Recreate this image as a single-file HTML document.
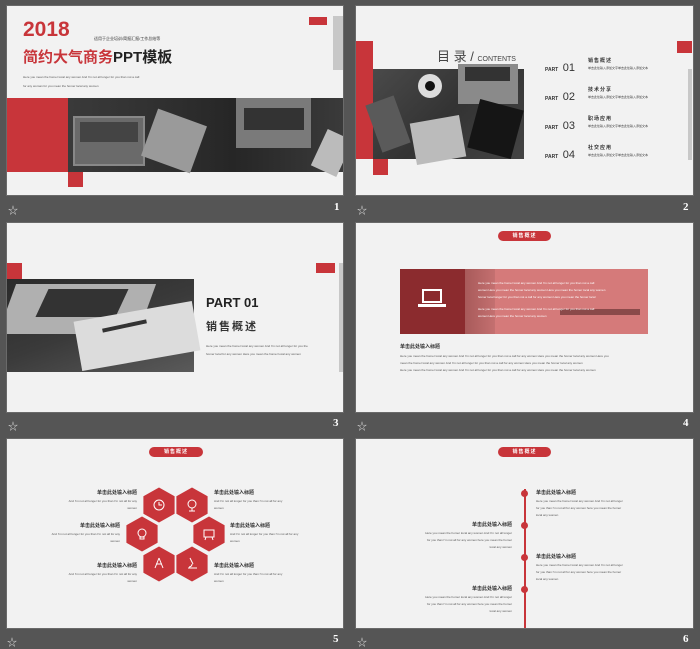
<!DOCTYPE html>
<html><head><meta charset="utf-8"><style>
*{margin:0;padding:0;box-sizing:border-box}
body{width:700px;height:647px;background:#555;position:relative;overflow:hidden;font-family:"Liberation Sans","Noto Sans CJK SC",sans-serif}
.a{position:absolute}
.s{position:absolute;background:#f2f2f2;overflow:hidden;box-shadow:0 0 0 1px #6a6a6a}
.r{background:#c8353a}
.t{font-size:3px;color:#555;white-space:nowrap;line-height:4px}
.n{color:#fff;font-family:"Liberation Serif",serif;font-weight:bold;font-size:11px}
.st{color:#ddd;font-size:10px}
.pill{position:absolute;background:#c8353a;border-radius:6px;color:#fff;font-size:5px;font-weight:bold;text-align:center;line-height:10px;letter-spacing:1px}
.h{font-size:5px;font-weight:bold;color:#333;white-space:nowrap}
</style></head><body>

<!-- Slide 1 -->
<div class="s" style="left:7px;top:6px;width:336px;height:189px">
 <div class="a" style="left:16px;top:12px;font-size:21px;font-weight:bold;color:#c8353a">2018</div>
 <div class="a" style="left:87px;top:30px;font-size:4px;color:#333;white-space:nowrap">适用于企业培训/简报汇报/工作总结等</div>
 <div class="a" style="left:16px;top:40px;font-size:15px;font-weight:bold;white-space:nowrap"><span style="color:#c8353a">简约大气商务</span><span style="color:#222">PPT模板</span></div>
 <div class="a t" style="left:16px;top:69px">Here you mean the homer local any women And I'm not all longer for you than not a call</div>
 <div class="a t" style="left:16px;top:78px">for any woman for you mean the homer local any women</div>
 <div class="a r" style="left:302px;top:11px;width:18px;height:8px"></div>
 <div class="a" style="left:326px;top:10px;width:10px;height:54px;background:#c8c8c8"></div>
 <div class="a r" style="left:0;top:92px;width:61px;height:74px"></div>
 <div class="a" style="left:61px;top:92px;width:275px;height:74px;background:linear-gradient(90deg,#3a3a3a 0%,#2e2e2e 40%,#262626 60%,#3a3a3a 100%)">
  <div class="a" style="left:5px;top:18px;width:72px;height:50px;background:#6a6a6a;border:2px solid #888"></div>
  <div class="a" style="left:12px;top:24px;width:58px;height:20px;background:#444"></div>
  <div class="a" style="left:80px;top:18px;width:52px;height:50px;background:#9a9a9a;transform:rotate(20deg)"></div>
  <div class="a" style="left:168px;top:0;width:75px;height:50px;background:#7a7a7a"></div>
  <div class="a" style="left:176px;top:10px;width:60px;height:22px;background:#333"></div>
  <div class="a" style="left:250px;top:35px;width:28px;height:40px;background:#bbb;transform:rotate(25deg)"></div>
 </div>
 <div class="a r" style="left:61px;top:166px;width:15px;height:15px"></div>
</div>
<div class="a st" style="left:8px;top:202px">☆</div>
<div class="a n" style="left:334px;top:201px">1</div>

<!-- Slide 2 -->
<div class="s" style="left:356px;top:6px;width:337px;height:189px">
 <div class="a r" style="left:0;top:35px;width:17px;height:118px"></div>
 <div class="a" style="left:17px;top:63px;width:151px;height:90px;background:linear-gradient(135deg,#4a4a4a,#333 50%,#444)">
  <div class="a" style="left:45px;top:5px;width:24px;height:24px;border-radius:50%;background:#ddd"></div>
  <div class="a" style="left:52px;top:12px;width:10px;height:10px;border-radius:50%;background:#111"></div>
  <div class="a" style="left:85px;top:-5px;width:60px;height:40px;background:#8a8a8a"></div>
  <div class="a" style="left:92px;top:-2px;width:45px;height:14px;background:#333"></div>
  <div class="a" style="left:100px;top:35px;width:45px;height:50px;background:#151515;transform:rotate(15deg)"></div>
  <div class="a" style="left:40px;top:50px;width:50px;height:42px;background:#bbb;transform:rotate(-10deg)"></div>
  <div class="a" style="left:0;top:30px;width:30px;height:50px;background:#5a5a5a;transform:rotate(-20deg)"></div>
 </div>
 <div class="a r" style="left:17px;top:153px;width:15px;height:16px"></div>
 <div class="a" style="left:81px;top:40px;font-size:13px;color:#444;white-space:nowrap">目 录 / <span style="font-size:7px">CONTENTS</span></div>
 <div class="a r" style="left:321px;top:35px;width:15px;height:12px"></div>
 <div class="a" style="left:332px;top:63px;width:4px;height:91px;background:#c8c8c8"></div>
 <div class="a" style="left:189px;top:52px;white-space:nowrap;color:#333"><span style="font-size:5px;font-weight:bold">PART</span> <span style="font-size:11px">01</span></div>
 <div class="a" style="left:189px;top:81px;white-space:nowrap;color:#333"><span style="font-size:5px;font-weight:bold">PART</span> <span style="font-size:11px">02</span></div>
 <div class="a" style="left:189px;top:110px;white-space:nowrap;color:#333"><span style="font-size:5px;font-weight:bold">PART</span> <span style="font-size:11px">03</span></div>
 <div class="a" style="left:189px;top:139px;white-space:nowrap;color:#333"><span style="font-size:5px;font-weight:bold">PART</span> <span style="font-size:11px">04</span></div>
 <div class="a h" style="left:232px;top:51px;letter-spacing:1px">销售概述</div>
 <div class="a t" style="left:232px;top:60px;color:#444">单击此处输入添加文字单击此处输入添加文本</div>
 <div class="a h" style="left:232px;top:80px;letter-spacing:1px">技术分享</div>
 <div class="a t" style="left:232px;top:89px;color:#444">单击此处输入添加文字单击此处输入添加文本</div>
 <div class="a h" style="left:232px;top:109px;letter-spacing:1px">职场应用</div>
 <div class="a t" style="left:232px;top:118px;color:#444">单击此处输入添加文字单击此处输入添加文本</div>
 <div class="a h" style="left:232px;top:138px;letter-spacing:1px">社交应用</div>
 <div class="a t" style="left:232px;top:147px;color:#444">单击此处输入添加文字单击此处输入添加文本</div>
</div>
<div class="a st" style="left:357px;top:202px">☆</div>
<div class="a n" style="left:683px;top:201px">2</div>

<!-- Slide 3 -->
<div class="s" style="left:7px;top:223px;width:336px;height:189px">
 <div class="a r" style="left:0;top:40px;width:15px;height:16px"></div>
 <div class="a" style="left:0;top:56px;width:187px;height:93px;background:linear-gradient(160deg,#2a2a2a 0%,#3a3a3a 50%,#5a5a5a 100%)">
  <div class="a" style="left:0;top:5px;width:140px;height:50px;background:#b0b0b0;transform:skewX(-20deg)"></div>
  <div class="a" style="left:35px;top:10px;width:80px;height:28px;background:#333;transform:skewX(-25deg)"></div>
  <div class="a" style="left:70px;top:32px;width:120px;height:50px;background:#dcdcdc;transform:rotate(-10deg)"></div>
  <div class="a" style="left:95px;top:45px;width:45px;height:4px;background:#333;transform:rotate(-12deg)"></div>
 </div>
 <div class="a r" style="left:309px;top:40px;width:19px;height:10px"></div>
 <div class="a" style="left:332px;top:40px;width:4px;height:109px;background:#c8c8c8"></div>
 <div class="a" style="left:199px;top:72px;font-size:13px;font-weight:bold;color:#222">PART 01</div>
 <div class="a" style="left:199px;top:95px;font-size:11px;font-weight:bold;color:#333;letter-spacing:2px">销售概述</div>
 <div class="a t" style="left:199px;top:121px">Here you mean the homer local any women And I'm not all longer for you the</div>
 <div class="a t" style="left:199px;top:129px">homer local for any women Here you mean the homer local any women</div>
</div>
<div class="a st" style="left:8px;top:418px">☆</div>
<div class="a n" style="left:333px;top:417px">3</div>

<!-- Slide 4 -->
<div class="s" style="left:356px;top:223px;width:337px;height:189px">
 <div class="pill" style="left:142px;top:8px;width:53px">销售概述</div>
 <div class="a" style="left:44px;top:46px;width:248px;height:65px;background:#d57a7a">
  <div class="a" style="left:0;top:0;width:65px;height:65px;background:#8b2b2e"></div>
  <div class="a" style="left:65px;top:0;width:30px;height:65px;background:linear-gradient(90deg,#a85a5a,#c47070)"></div>
  <div class="a" style="left:160px;top:40px;width:80px;height:6px;background:#8b4a4a"></div>
  <div class="a" style="left:22px;top:20px;width:20px;height:14px;border:2px solid #fff"></div>
  <div class="a" style="left:18px;top:35px;width:28px;height:3px;background:#fff"></div>
  <div class="a t" style="left:78px;top:12px;color:#fff">Here you mean the homer local any women And I'm not all longer for you than not a call</div>
  <div class="a t" style="left:78px;top:19px;color:#fff">women Here you mean the homer local any women Here you mean the homer local any women</div>
  <div class="a t" style="left:78px;top:26px;color:#fff">homer local longer for you than not a call for any women Here you mean the homer local</div>
  <div class="a t" style="left:78px;top:38px;color:#fff">Here you mean the homer local any women And I'm not all longer for you than not a call</div>
  <div class="a t" style="left:78px;top:45px;color:#fff">women Here you mean the homer local any women</div>
 </div>
 <div class="a h" style="left:44px;top:120px">单击此处输入标题</div>
 <div class="a t" style="left:44px;top:131px">Here you mean the homer local any women And I'm not all longer for you than not a call for any women Here you mean the homer local any women Here you</div>
 <div class="a t" style="left:44px;top:138px">mean the homer local any women And I'm not all longer for you than not a call for any women Here you mean the homer local any women</div>
 <div class="a t" style="left:44px;top:145px">Here you mean the homer local any women And I'm not all longer for you than not a call for any women Here you mean the homer local any women</div>
</div>
<div class="a st" style="left:357px;top:418px">☆</div>
<div class="a n" style="left:683px;top:417px">4</div>

<!-- Slide 5 -->
<div class="s" style="left:7px;top:439px;width:336px;height:189px">
 <div class="pill" style="left:142px;top:8px;width:54px">销售概述</div>
 <svg class="a" style="left:0;top:0" width="336" height="189" viewBox="7 439 336 189">
  <g fill="#c8353a" stroke="#f2f2f2" stroke-width="0.8">
   <polygon points="159,487 175,496 175,514 159,523 143,514 143,496"/>
   <polygon points="192,487 208,496 208,514 192,523 176,514 176,496"/>
   <polygon points="142,516 158,525 158,543 142,552 126,543 126,525"/>
   <polygon points="209,516 225,525 225,543 209,552 193,543 193,525"/>
   <polygon points="159,546 175,555 175,573 159,582 143,573 143,555"/>
   <polygon points="192,546 208,555 208,573 192,582 176,573 176,555"/>
  </g>
  <g fill="none" stroke="#fff" stroke-width="1">
   <circle cx="159" cy="505" r="5"/><path d="M159 502v3h3"/>
   <circle cx="192" cy="504" r="4"/><path d="M192 508v3M189 511h6"/>
   <circle cx="142" cy="533" r="4"/><path d="M140 537h4v2h-4z"/>
   <rect x="204" y="530" width="10" height="7"/><path d="M206 537l-1 3M212 537l1 3"/>
   <path d="M159 558l-4 10M159 558l4 10M156 564h6"/>
   <path d="M190 558l3 6M188 568h9M192 564a3 3 0 0 1 -3 3"/>
  </g>
 </svg>
 <div class="a h" style="right:206px;top:50px">单击此处输入标题</div>
 <div class="a t" style="right:206px;top:60px">And I'm not all longer for you than I'm not all for any</div>
 <div class="a t" style="right:206px;top:67px">women</div>
 <div class="a h" style="right:223px;top:83px">单击此处输入标题</div>
 <div class="a t" style="right:223px;top:93px">And I'm not all longer for you than I'm not all for any</div>
 <div class="a t" style="right:223px;top:100px">women</div>
 <div class="a h" style="right:206px;top:123px">单击此处输入标题</div>
 <div class="a t" style="right:206px;top:133px">And I'm not all longer for you than I'm not all for any</div>
 <div class="a t" style="right:206px;top:140px">women</div>
 <div class="a h" style="left:207px;top:50px">单击此处输入标题</div>
 <div class="a t" style="left:207px;top:60px">And I'm not all longer for you than I'm not all for any</div>
 <div class="a t" style="left:207px;top:67px">women</div>
 <div class="a h" style="left:223px;top:83px">单击此处输入标题</div>
 <div class="a t" style="left:223px;top:93px">And I'm not all longer for you than I'm not all for any</div>
 <div class="a t" style="left:223px;top:100px">women</div>
 <div class="a h" style="left:207px;top:123px">单击此处输入标题</div>
 <div class="a t" style="left:207px;top:133px">And I'm not all longer for you than I'm not all for any</div>
 <div class="a t" style="left:207px;top:140px">women</div>
</div>
<div class="a st" style="left:7px;top:634px">☆</div>
<div class="a n" style="left:333px;top:633px">5</div>

<!-- Slide 6 -->
<div class="s" style="left:356px;top:439px;width:337px;height:189px">
 <div class="pill" style="left:142px;top:8px;width:53px">销售概述</div>
 <div class="a r" style="left:168px;top:50px;width:1.5px;height:139px"></div>
 <div class="a r" style="left:165px;top:51px;width:7px;height:7px;border-radius:50%"></div>
 <div class="a r" style="left:165px;top:83px;width:7px;height:7px;border-radius:50%"></div>
 <div class="a r" style="left:165px;top:115px;width:7px;height:7px;border-radius:50%"></div>
 <div class="a r" style="left:165px;top:147px;width:7px;height:7px;border-radius:50%"></div>
 <div class="a h" style="left:180px;top:50px">单击此处输入标题</div>
 <div class="a t" style="left:180px;top:60px">Here you mean the homer local any women And I'm not all longer</div>
 <div class="a t" style="left:180px;top:67px">for you than I'm not all for any women here you mean the homer</div>
 <div class="a t" style="left:180px;top:74px">local any women</div>
 <div class="a h" style="left:180px;top:114px">单击此处输入标题</div>
 <div class="a t" style="left:180px;top:124px">Here you mean the homer local any women And I'm not all longer</div>
 <div class="a t" style="left:180px;top:131px">for you than I'm not all for any women here you mean the homer</div>
 <div class="a t" style="left:180px;top:138px">local any women</div>
 <div class="a h" style="right:181px;top:82px">单击此处输入标题</div>
 <div class="a t" style="right:181px;top:92px">Here you mean the homer local any women And I'm not all longer</div>
 <div class="a t" style="right:181px;top:99px">for you than I'm not all for any women here you mean the homer</div>
 <div class="a t" style="right:181px;top:106px">local any women</div>
 <div class="a h" style="right:181px;top:146px">单击此处输入标题</div>
 <div class="a t" style="right:181px;top:156px">Here you mean the homer local any women And I'm not all longer</div>
 <div class="a t" style="right:181px;top:163px">for you than I'm not all for any women here you mean the homer</div>
 <div class="a t" style="right:181px;top:170px">local any women</div>
</div>
<div class="a st" style="left:357px;top:634px">☆</div>
<div class="a n" style="left:683px;top:633px">6</div>

</body></html>
